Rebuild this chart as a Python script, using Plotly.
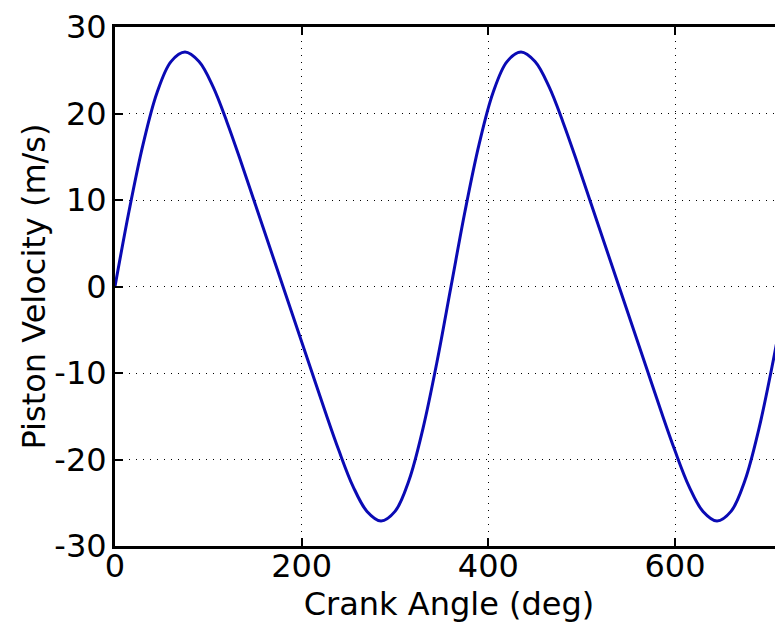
import plotly.graph_objects as go

# Crank angle (deg) and piston velocity (m/s)
crank_angle = [0, 15, 30, 45, 60, 75, 90, 105, 120, 135, 150, 165,
               180, 195, 210, 225, 240, 255, 270, 285, 300, 315, 330, 345,
               360, 375, 390, 405, 420, 435, 450, 465, 480, 495, 510, 525,
               540, 555, 570, 585, 600, 615, 630, 645, 660, 675, 690, 705, 720]
piston_velocity = [0.0, 8.7, 16.4, 22.4, 26.0, 27.1, 26.0, 23.1, 19.0, 14.4, 9.6, 4.8,
                   0.0, -4.8, -9.6, -14.4, -19.0, -23.1, -26.0, -27.1, -26.0, -22.4, -16.4, -8.7,
                   0.0, 8.7, 16.4, 22.4, 26.0, 27.1, 26.0, 23.1, 19.0, 14.4, 9.6, 4.8,
                   0.0, -4.8, -9.6, -14.4, -19.0, -23.1, -26.0, -27.1, -26.0, -22.4, -16.4, -8.7, 0.0]

x_ticks = [0, 200, 400, 600]
x_tick_labels = ["0", "200", "400", "600"]
y_ticks = [-30, -20, -10, 0, 10, 20, 30]
y_tick_labels = ["-30", "-20", "-10", "0", "10", "20", "30"]

FONT = dict(family="DejaVu Sans, Liberation Sans, Arial", size=32, color="black")

fig = go.Figure()
fig.add_trace(go.Scatter(
    x=crank_angle, y=piston_velocity, mode="lines",
    line=dict(color="#0a0ab4", width=3, shape="spline"),
    showlegend=False, hoverinfo="skip",
))

axis_common = dict(
    showline=True, linecolor="black", linewidth=3,
    ticks="inside", ticklen=8, tickwidth=2, tickcolor="black",
    showgrid=True, gridcolor="black", gridwidth=1, griddash="1px,6px",
    zeroline=False, tickfont=FONT, ticklabeloverflow="allow",
)

# page body has an 8px default margin, so the figure is 8px smaller
fig.update_layout(
    width=775, height=620,
    margin=dict(l=107, r=0, t=17, b=82),
    paper_bgcolor="white", plot_bgcolor="white",
    font=FONT,
    xaxis=dict(range=[0, 715.7], tickvals=x_ticks, ticktext=x_tick_labels, mirror="ticks",
               ticklabelstandoff=-10,
               title=dict(text="Crank Angle (deg)", font=FONT, standoff=0),
               **axis_common),
    yaxis=dict(range=[-30, 30], tickvals=y_ticks, ticktext=y_tick_labels, mirror=False,
               ticklabelstandoff=-1,
               title=dict(text="Piston Velocity (m/s)", font=FONT, standoff=0),
               **axis_common),
)

fig.write_html("out.html")
